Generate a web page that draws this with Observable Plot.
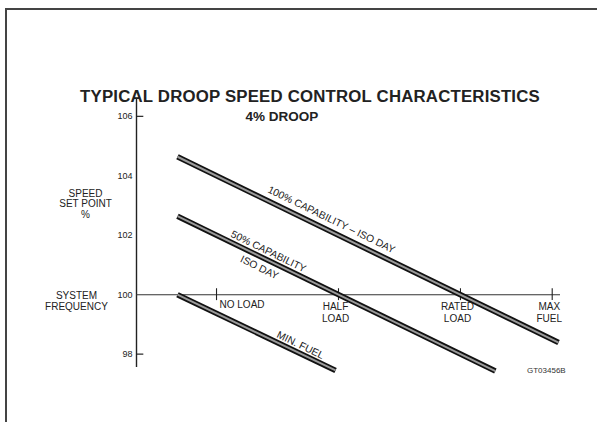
<!DOCTYPE html>
<html>
<head>
<meta charset="utf-8">
<script src="https://cdn.jsdelivr.net/npm/d3@7"></script>
<script src="https://cdn.jsdelivr.net/npm/@observablehq/plot@0.6"></script>
<style>
  html, body { margin: 0; padding: 0; background: #fff; }
  #wrap { position: relative; width: 597px; height: 422px; overflow: hidden; font-family: "Liberation Sans", Arial, sans-serif; }
  #frame { position: absolute; left: 5px; top: 8px; width: 620px; height: 440px; border-left: 2px solid #444; border-top: 2px solid #444; }
  #title { position: absolute; left: 0; width: 620px; top: 87px; text-align: center; font-weight: bold; font-size: 16.8px; color: #222; letter-spacing: 0.2px; }
  #subtitle { position: absolute; left: 232px; width: 100px; top: 109px; text-align: center; font-weight: bold; font-size: 13.5px; color: #222; }
  #code { position: absolute; left: 527px; top: 366px; font-size: 8px; color: #333; }
  svg { position: absolute; left: 0; top: 0; }
</style>
</head>
<body>
<div id="wrap">
  <div id="frame"></div>
  <div id="title">TYPICAL DROOP SPEED CONTROL CHARACTERISTICS</div>
  <div id="subtitle">4% DROOP</div>
  <div id="code">GT03456B</div>
</div>
<script>
// x: load (% of rated), y: speed set point (%)
const loadPositions = [0, 50, 100, 137.6];
const loadLabels = ["NO LOAD", "HALF\nLOAD", "RATED\nLOAD", "MAX\nFUEL"];
const yTicks = [98, 100, 102, 104, 106];
const yTickMarks = [98, 106];

const cap100X = [-16, 140.2];
const cap100Y = [104.64, 98.39];
const cap50X = [-16, 114.3];
const cap50Y = [102.64, 97.43];
const minFuelX = [-16, 48.8];
const minFuelY = [100, 97.45];

const lineLabels = ["100% CAPABILITY – ISO DAY", "50% CAPABILITY", "ISO DAY", "MIN. FUEL"];
const lineLabelX = [47.1, 21.3, 17.6, 34.4];
const lineLabelY = [102.52, 101.45, 100.91, 98.3];

const xDomain = [-32.8, 141];
const yDomain = [97.55, 106.6];

const toPts = (xs, ys, name) => xs.map((x, i) => ({x, y: ys[i], name}));
const lines = [
  ...toPts(cap100X, cap100Y, "100"),
  ...toPts(cap50X, cap50Y, "50"),
  ...toPts(minFuelX, minFuelY, "min")
];
const loads = loadPositions.map((x, i) => ({x, label: loadLabels[i]}));
const labels = lineLabels.map((t, i) => ({t, x: lineLabelX[i], y: lineLabelY[i]}));

const chart = Plot.plot({
  width: 597,
  height: 422,
  marginLeft: 136,
  marginRight: 37,
  marginTop: 98,
  marginBottom: 55,
  style: {fontFamily: "Liberation Sans, Arial, sans-serif", background: "transparent", color: "#222"},
  x: {domain: xDomain, axis: null},
  y: {domain: yDomain, axis: null},
  marks: [
    Plot.ruleX([xDomain[0]], {stroke: "#222", strokeWidth: 1.4}),
    Plot.ruleY([100], {stroke: "#333", strokeWidth: 1.1}),
    Plot.ruleY(yTickMarks, {x1: xDomain[0], x2: xDomain[0] + 3, stroke: "#222", strokeWidth: 1.2}),
    Plot.axisY({ticks: yTicks, tickSize: 0, tickPadding: 4, fontSize: 9, anchor: "left", label: null, tickFormat: d => String(d)}),
    Plot.ruleX(loads, {x: "x", y1: 99.8, y2: 100.2, stroke: "#222", strokeWidth: 1.1}),
    Plot.line(lines, {x: "x", y: "y", z: "name", stroke: "#111", strokeWidth: 5.5, strokeLinecap: "butt"}),
    Plot.line(lines, {x: "x", y: "y", z: "name", stroke: "#9a9a9a", strokeWidth: 2, strokeLinecap: "butt"}),
    Plot.text(loads.slice(0, 1), {x: "x", y: 100, text: "label", textAnchor: "start", lineAnchor: "top", dx: 3, dy: 6, fontSize: 10}),
    Plot.text(loads.slice(1), {x: "x", y: 100, text: "label", textAnchor: "middle", lineAnchor: "top", dx: -3, dy: 6, fontSize: 10, lineHeight: 1.25}),
    Plot.text(labels, {x: "x", y: "y", text: "t", rotate: 26, fontSize: 10.3, textAnchor: "middle", lineAnchor: "middle"}),
    Plot.text(["SPEED\nSET POINT\n%"], {x: -53.7, y: 103.06, text: d => d, fontSize: 10, lineHeight: 1.05, textAnchor: "middle", lineAnchor: "middle"}),
    Plot.text(["SYSTEM\nFREQUENCY"], {x: -57.4, y: 99.78, text: d => d, fontSize: 10, lineHeight: 1.1, textAnchor: "middle", lineAnchor: "middle"})
  ]
});
document.getElementById("wrap").appendChild(chart);
</script>
</body>
</html>
